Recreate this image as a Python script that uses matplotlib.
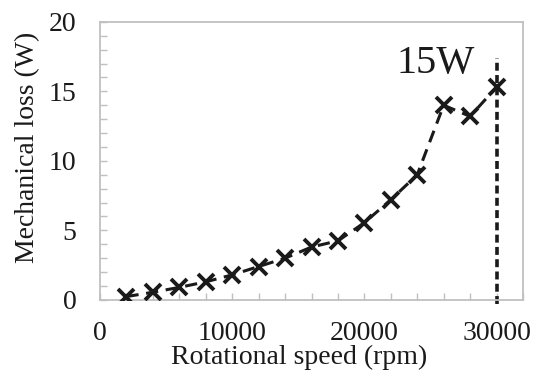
import numpy as np
from matplotlib import pyplot as plt

plt.rcParams['font.family'] = ['Liberation Serif', 'DejaVu Serif']

speed = [2000, 4000, 6000, 8000, 10000, 12000, 14000, 16000, 18000,
         20000, 22000, 24000, 26000, 28000, 30000]
loss = [0.24, 0.55, 0.9, 1.3, 1.8, 2.4, 3.0, 3.8, 4.25,
        5.55, 7.2, 9.0, 14.0, 13.2, 15.3]
limit_speed = 30000
limit_top = 17.4
label = '15W'

fig = plt.figure(figsize=(5.38, 3.83), dpi=100)
ax = fig.add_axes([0.186, 0.217, 0.786, 0.726])

ax.plot(speed, loss, color='#1a1a1a', linestyle=(0, (4, 2.5)), linewidth=2.2,
        marker='x', markersize=12, markeredgewidth=2.8, zorder=3)
ax.plot([limit_speed, limit_speed], [-0.3, limit_top], color='#1a1a1a',
        linestyle=(0, (2.2, 1.2)), linewidth=2.6, clip_on=False, zorder=2)
ax.text(limit_speed - 1600, 17.0, label, fontsize=29, ha='right', va='center',
        color='#1a1a1a')

ax.set_xlim(0, 32000)
ax.set_ylim(0, 20)
ax.set_xticks([0, 10000, 20000, 30000])
ax.set_yticks([0, 5, 10, 15, 20])
ax.set_xticks(np.arange(0, 32001, 2000), minor=True)
ax.set_yticks(np.arange(0, 20.1, 1), minor=True)
ax.tick_params(which='both', direction='in', length=5, width=1,
               color='#c0c0c0', labelsize=20, labelcolor='#1a1a1a')
ax.tick_params(axis='x', pad=15)
ax.tick_params(axis='y', pad=17)
for s in ax.spines.values():
    s.set_color('#c0c0c0')
    s.set_linewidth(1.3)

ax.set_xlabel('Rotational speed (rpm)', fontsize=20, color='#1a1a1a')
ax.set_ylabel('Mechanical loss (W)', fontsize=20, color='#1a1a1a')
ax.xaxis.set_label_coords(0.47, -0.16)
ax.yaxis.set_label_coords(-0.142, 0.55)

plt.savefig('out.png', dpi=100)
